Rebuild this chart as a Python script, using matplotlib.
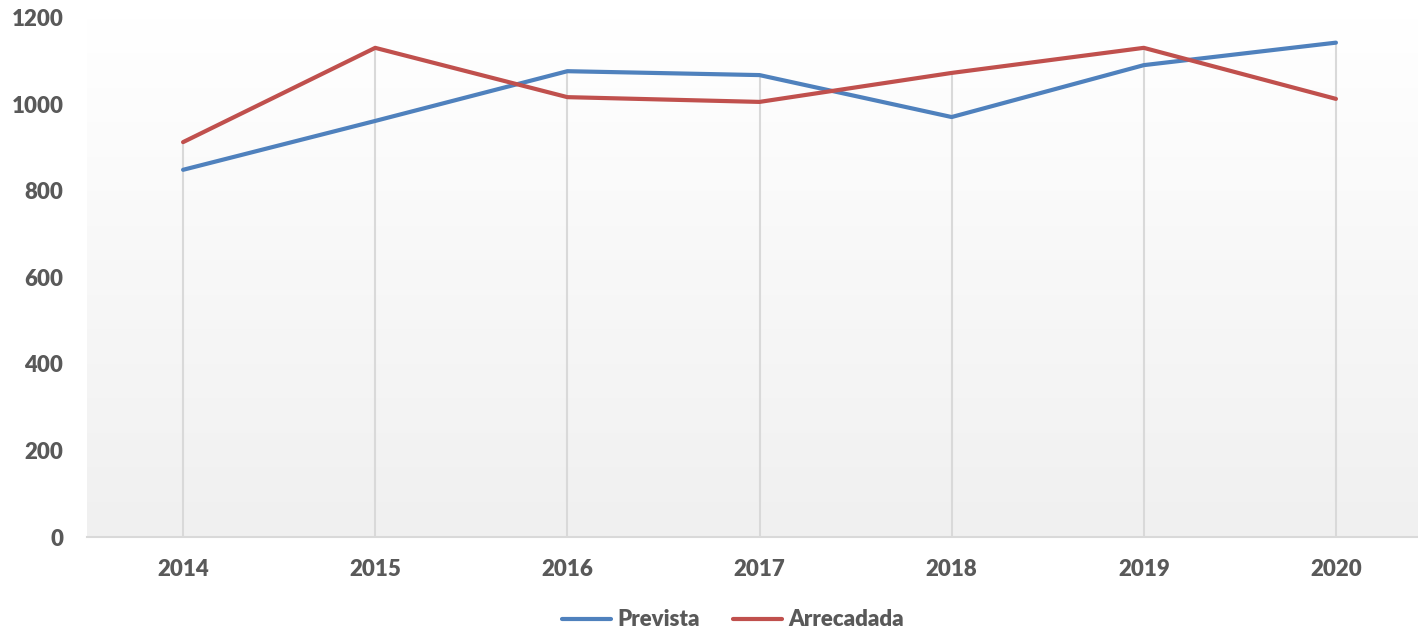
import matplotlib.pyplot as plt
import numpy as np
from matplotlib.colors import LinearSegmentedColormap

years = ['2014', '2015', '2016', '2017', '2018', '2019', '2020']
prevista = [849, 962, 1077, 1068, 971, 1091, 1143]
arrecadada = [913, 1131, 1017, 1006, 1073, 1131, 1013]

plt.rcParams['font.family'] = ['Lato', 'DejaVu Sans']
txt = '#595959'

fig = plt.figure(figsize=(14.18, 6.33), dpi=100)
W, H = 1418, 633
left, right = 87, 1432
top, bottom = 18, 537
ax = fig.add_axes([left / W, 1 - bottom / H, (right - left) / W, (bottom - top) / H])

x = np.arange(len(years))

# gradient background
grad = np.linspace(0, 1, 256).reshape(-1, 1)
cmap = LinearSegmentedColormap.from_list('bg', ['#f0f0f0', '#ffffff'])
ax.imshow(grad, aspect='auto', cmap=cmap, origin='lower',
          extent=[-0.5, 6.5, 0, 1200], zorder=0)

# drop lines from the highest point down to the axis
tops = np.maximum(prevista, arrecadada)
ax.vlines(x, 0, tops, color='#d9d9d9', lw=1.5, zorder=1)

ax.plot(x, prevista, color='#4F81BD', lw=3, label='Prevista', zorder=3,
        solid_capstyle='round')
ax.plot(x, arrecadada, color='#C0504D', lw=3, label='Arrecadada', zorder=3,
        solid_capstyle='round')

ax.set_xlim(-0.5, 6.5)
ax.set_ylim(0, 1200)
ax.set_yticks([0, 200, 400, 600, 800, 1000, 1200])
ax.set_xticks(x)
ax.set_xticklabels(years)

for s in ['top', 'right', 'left']:
    ax.spines[s].set_visible(False)
ax.spines['bottom'].set_color('#d9d9d9')
ax.spines['bottom'].set_linewidth(1.5)
ax.tick_params(length=0, labelsize=16, labelcolor=txt)
ax.tick_params(axis='y', pad=17)
ax.tick_params(axis='x', pad=16)
for lab in ax.get_xticklabels() + ax.get_yticklabels():
    lab.set_fontweight('heavy')

leg = fig.legend(loc='center', bbox_to_anchor=(733 / W, 1 - 620 / H), ncol=2,
                 frameon=False, fontsize=16, handlelength=2.2, columnspacing=1.5,
                 handletextpad=0.3)
for t in leg.get_texts():
    t.set_color(txt)
    t.set_fontweight('heavy')

fig.savefig('out.png', dpi=100)
